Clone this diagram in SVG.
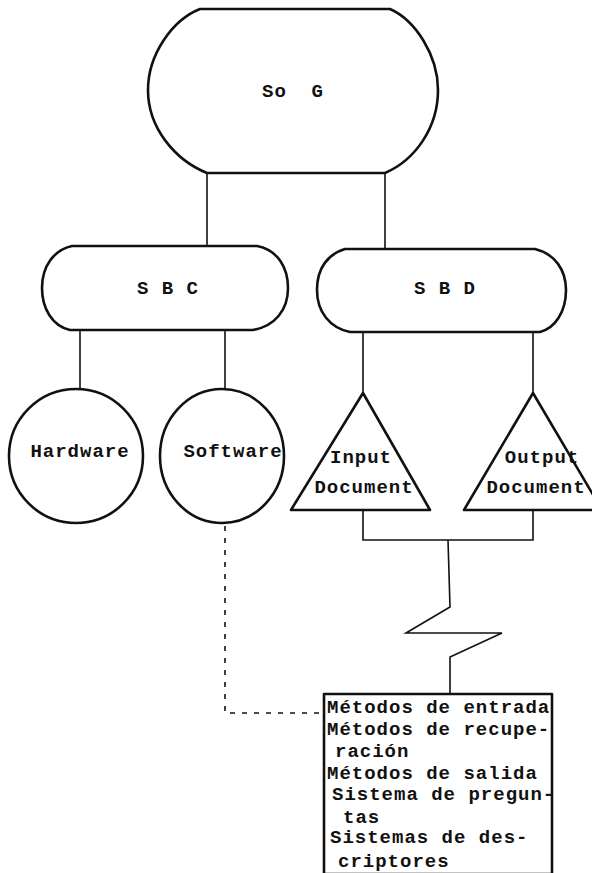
<svg xmlns="http://www.w3.org/2000/svg" width="592" height="873" viewBox="0 0 592 873">
<style>
.shape{fill:none;stroke:#111;stroke-width:2.6;stroke-linejoin:round}
.line{fill:none;stroke:#111;stroke-width:1.6}
.dash{fill:none;stroke:#111;stroke-width:1.6;stroke-dasharray:5 7}
.t{font-family:"Liberation Mono","DejaVu Sans Mono",monospace;font-weight:bold;font-size:19px;fill:#111;letter-spacing:1px}
.c{text-anchor:middle}
</style>
<rect width="592" height="873" fill="#fff"/>
<g id="connectors">
<path class="line" d="M207,173 V246"/>
<path class="line" d="M385,173 V249"/>
<path class="line" d="M80,330 V390"/>
<path class="line" d="M225,330 V389"/>
<path class="line" d="M363,332 V393"/>
<path class="line" d="M533,332 V393"/>
<path class="line" d="M363,510 V540 H533 V510"/>
<path class="line" stroke-width="2" d="M448,540 L450,607 L406,633 L502,633 L450,657 L450,694"/>
<path class="dash" d="M225,526 V713 H324"/>
</g>
<g id="node-sog">
<path class="shape" d="M200,9 L390,9 C415,20 438,55 438,90 C438,128 415,160 385,173 L207,173 C175,160 148,128 148,90 C148,55 172,20 200,9 Z"/>
<text class="t c" x="293" y="97" xml:space="preserve">So  G</text>
</g>
<g id="node-sbc">
<path class="shape" d="M72,246 L257,246 C278,250 288,268 288,288 C288,310 275,326 253,330 L70,330 C52,326 42,308 42,288 C42,266 54,250 72,246 Z"/>
<text class="t c" x="168" y="294">S B C</text>
</g>
<g id="node-sbd">
<path class="shape" d="M345,249 L535,249 C555,254 566,270 566,290 C566,312 555,328 540,332 L350,332 C330,328 317,312 317,290 C317,268 328,254 345,249 Z"/>
<text class="t c" x="445" y="294">S B D</text>
</g>
<g id="node-hardware">
<ellipse class="shape" cx="76" cy="456" rx="67" ry="67"/>
<text class="t c" x="80" y="457">Hardware</text>
</g>
<g id="node-software">
<ellipse class="shape" cx="222" cy="456" rx="62" ry="67"/>
<text class="t c" x="233" y="457">Software</text>
</g>
<g id="node-input">
<path class="shape" d="M363,393 L430,510 L291,510 Z"/>
<text class="t c" x="361" y="463">Input</text>
<text class="t c" x="364" y="493">Document</text>
</g>
<g id="node-output">
<path class="shape" d="M533,393 L602,510 L464,510 Z"/>
<text class="t c" x="542" y="463">Output</text>
<text class="t c" x="536" y="493">Document</text>
</g>
<g id="node-box">
<rect class="shape" x="324" y="694" width="228" height="180"/>
<text class="t" x="327" y="713">Métodos de entrada</text>
<text class="t" x="327" y="735">Métodos de recupe-</text>
<text class="t" x="335" y="757">ración</text>
<text class="t" x="327" y="779">Métodos de salida</text>
<text class="t" x="332" y="800">Sistema de pregun-</text>
<text class="t" x="343" y="823">tas</text>
<text class="t" x="330" y="843">Sistemas de des-</text>
<text class="t" x="338" y="867">criptores</text>
</g>
</svg>
